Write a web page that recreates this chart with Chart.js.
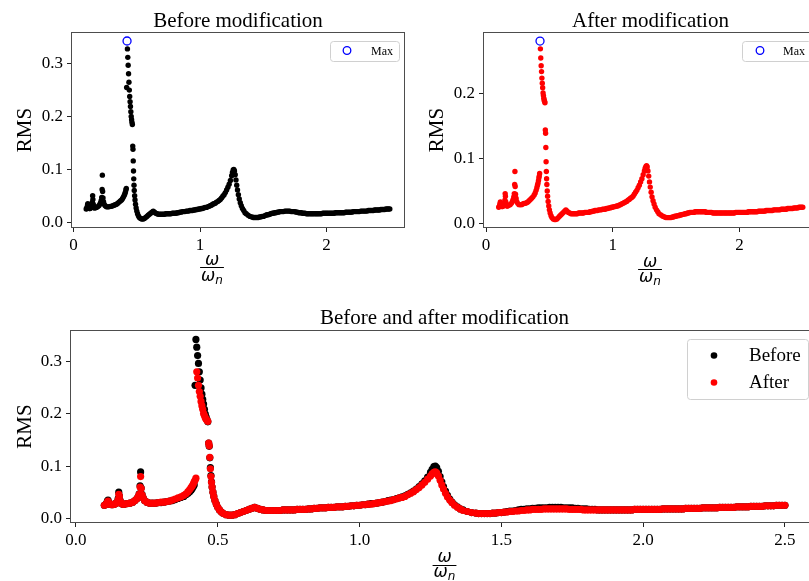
<!DOCTYPE html>
<html>
<head>
<meta charset="utf-8">
<script src="https://cdn.jsdelivr.net/npm/chart.js@4.4.1/dist/chart.umd.min.js"></script>
<style>
  html, body { margin: 0; padding: 0; background: #fff; overflow: hidden; width: 809px; height: 581px; }
  canvas { position: absolute; }
</style>
</head>
<body>
<canvas id="before" style="left:0;top:0" width="440" height="290"></canvas>
<canvas id="after" style="left:420px;top:0" width="440" height="290"></canvas>
<canvas id="both" style="left:0;top:290px" width="840" height="291"></canvas>
<script>
// frequency ratio w/wn and RMS response, before and after the modification
const omega = [
  0.100, 0.104, 0.108, 0.111, 0.113, 0.116, 0.120, 0.125, 0.130, 0.135,
  0.140, 0.145, 0.149, 0.151, 0.153, 0.156, 0.160, 0.165, 0.170, 0.180,
  0.190, 0.200, 0.208, 0.214, 0.219, 0.223, 0.226, 0.228, 0.230, 0.233,
  0.237, 0.242, 0.250, 0.260, 0.270, 0.280, 0.290, 0.300, 0.310, 0.320,
  0.330, 0.340, 0.350, 0.360, 0.370, 0.380, 0.388, 0.395, 0.401, 0.406,
  0.410, 0.414, 0.417, 0.420, 0.423, 0.426, 0.429, 0.432, 0.435, 0.438,
  0.441, 0.444, 0.447, 0.450, 0.453, 0.456, 0.459, 0.462, 0.465, 0.468,
  0.470, 0.472, 0.474, 0.476, 0.478, 0.480, 0.483, 0.486, 0.490, 0.495,
  0.500, 0.506, 0.513, 0.520, 0.530, 0.540, 0.550, 0.560, 0.570, 0.580,
  0.590, 0.600, 0.610, 0.620, 0.630, 0.640, 0.650, 0.660,
  0.670, 0.680, 0.690, 0.700, 0.710, 0.720, 0.730, 0.740, 0.750, 0.760,
  0.770, 0.780, 0.790, 0.800, 0.810, 0.820, 0.830, 0.840, 0.850, 0.860,
  0.870, 0.880, 0.890, 0.900, 0.910, 0.920, 0.930, 0.940, 0.950, 0.960,
  0.970, 0.980, 0.990, 1.000, 1.010, 1.020, 1.030, 1.040, 1.050, 1.060,
  1.070, 1.080, 1.090, 1.100, 1.110, 1.120, 1.130, 1.140, 1.150, 1.160,
  1.170, 1.180, 1.190, 1.200, 1.210, 1.220, 1.230, 1.240, 1.250, 1.256,
  1.262, 1.267, 1.272, 1.278, 1.284, 1.290, 1.296, 1.303, 1.310, 1.318,
  1.326, 1.335, 1.345, 1.355, 1.365, 1.380, 1.395, 1.410, 1.420, 1.430,
  1.440, 1.450, 1.460, 1.470, 1.480, 1.490, 1.500, 1.510, 1.520, 1.530,
  1.540, 1.550, 1.560, 1.570, 1.580, 1.590, 1.600, 1.610, 1.620, 1.630,
  1.640, 1.650, 1.660, 1.670, 1.680, 1.690, 1.700, 1.710, 1.720, 1.730,
  1.740, 1.750, 1.760, 1.770, 1.780, 1.790, 1.800, 1.810, 1.820, 1.830,
  1.840, 1.850, 1.860, 1.870, 1.880, 1.890, 1.900, 1.910, 1.920, 1.930,
  1.940, 1.950, 1.960, 1.970, 1.980, 1.990, 2.000, 2.010, 2.020, 2.030,
  2.040, 2.050, 2.060, 2.070, 2.080, 2.090, 2.100, 2.110, 2.120, 2.130,
  2.140, 2.150, 2.160, 2.170, 2.180, 2.190, 2.200, 2.210, 2.220, 2.230,
  2.240, 2.250, 2.260, 2.270, 2.280, 2.290, 2.300, 2.310, 2.320, 2.330,
  2.340, 2.350, 2.360, 2.370, 2.380, 2.390, 2.400, 2.410, 2.420, 2.430,
  2.440, 2.450, 2.460, 2.470, 2.480, 2.490, 2.500
];
const rmsBefore = [
  0.025, 0.026, 0.029, 0.033, 0.035, 0.030, 0.027, 0.026, 0.026, 0.027,
  0.028, 0.031, 0.038, 0.050, 0.043, 0.034, 0.029, 0.027, 0.027, 0.028,
  0.029, 0.031, 0.034, 0.037, 0.041, 0.047, 0.062, 0.089, 0.058, 0.046,
  0.039, 0.034, 0.031, 0.029, 0.029, 0.029, 0.030, 0.030, 0.031, 0.032,
  0.033, 0.034, 0.036, 0.038, 0.040, 0.042, 0.045, 0.048, 0.051, 0.054,
  0.057, 0.061, 0.064, 0.255, 0.343, 0.328, 0.312, 0.297, 0.281, 0.265,
  0.250, 0.238, 0.228, 0.219, 0.209, 0.200, 0.194, 0.189, 0.185, 0.144,
  0.138, 0.116, 0.097, 0.082, 0.070, 0.060, 0.050, 0.042, 0.034, 0.027,
  0.021, 0.016, 0.012, 0.009, 0.007, 0.006, 0.006, 0.007, 0.009, 0.011,
  0.013, 0.015, 0.017, 0.019, 0.021, 0.019, 0.017, 0.016,
  0.015, 0.015, 0.015, 0.015, 0.015, 0.015, 0.016, 0.016, 0.016, 0.016,
  0.016, 0.017, 0.017, 0.017, 0.017, 0.018, 0.018, 0.019, 0.019, 0.020,
  0.020, 0.020, 0.021, 0.021, 0.021, 0.022, 0.022, 0.022, 0.023, 0.023,
  0.024, 0.024, 0.025, 0.025, 0.026, 0.026, 0.027, 0.028, 0.028, 0.029,
  0.030, 0.031, 0.032, 0.034, 0.035, 0.036, 0.038, 0.039, 0.041, 0.043,
  0.046, 0.049, 0.052, 0.056, 0.061, 0.066, 0.072, 0.079, 0.088, 0.094,
  0.099, 0.100, 0.097, 0.090, 0.080, 0.070, 0.061, 0.052, 0.044, 0.037,
  0.031, 0.026, 0.022, 0.018, 0.016, 0.013, 0.011, 0.010, 0.009, 0.009,
  0.009, 0.009, 0.009, 0.010, 0.010, 0.011, 0.011, 0.012, 0.013, 0.014,
  0.014, 0.015, 0.016, 0.017, 0.017, 0.018, 0.018, 0.019, 0.019, 0.020,
  0.020, 0.020, 0.020, 0.021, 0.021, 0.021, 0.021, 0.021, 0.020, 0.020,
  0.020, 0.020, 0.019, 0.019, 0.018, 0.018, 0.018, 0.017, 0.017, 0.017,
  0.016, 0.016, 0.016, 0.016, 0.016, 0.016, 0.016, 0.016, 0.016, 0.016,
  0.016, 0.016, 0.016, 0.017, 0.017, 0.017, 0.017, 0.017, 0.017, 0.017,
  0.017, 0.017, 0.017, 0.018, 0.018, 0.018, 0.018, 0.018, 0.018, 0.018,
  0.018, 0.019, 0.019, 0.019, 0.019, 0.019, 0.019, 0.020, 0.020, 0.020,
  0.020, 0.020, 0.020, 0.021, 0.021, 0.021, 0.021, 0.021, 0.021, 0.022,
  0.022, 0.022, 0.022, 0.022, 0.023, 0.023, 0.023, 0.023, 0.023, 0.024,
  0.024, 0.024, 0.024, 0.025, 0.025, 0.025, 0.025
];
const rmsAfter = [
  0.025, 0.026, 0.028, 0.031, 0.033, 0.029, 0.027, 0.026, 0.026, 0.027,
  0.028, 0.030, 0.036, 0.046, 0.042, 0.033, 0.029, 0.027, 0.027, 0.028,
  0.029, 0.031, 0.034, 0.037, 0.041, 0.046, 0.060, 0.080, 0.057, 0.045,
  0.039, 0.034, 0.031, 0.029, 0.029, 0.029, 0.030, 0.031, 0.031, 0.032,
  0.033, 0.035, 0.037, 0.039, 0.041, 0.044, 0.047, 0.051, 0.055, 0.059,
  0.062, 0.066, 0.070, 0.073, 0.077, 0.281, 0.269, 0.255, 0.243, 0.234,
  0.224, 0.216, 0.209, 0.201, 0.197, 0.193, 0.190, 0.188, 0.186, 0.144,
  0.139, 0.117, 0.095, 0.080, 0.069, 0.060, 0.050, 0.042, 0.034, 0.027,
  0.021, 0.016, 0.012, 0.009, 0.007, 0.006, 0.006, 0.007, 0.009, 0.011,
  0.013, 0.015, 0.017, 0.019, 0.021, 0.019, 0.017, 0.016,
  0.015, 0.015, 0.015, 0.015, 0.015, 0.015, 0.016, 0.016, 0.016, 0.016,
  0.016, 0.017, 0.017, 0.017, 0.017, 0.018, 0.018, 0.019, 0.019, 0.020,
  0.020, 0.020, 0.021, 0.021, 0.021, 0.022, 0.022, 0.022, 0.023, 0.023,
  0.024, 0.024, 0.025, 0.025, 0.026, 0.026, 0.027, 0.027, 0.028, 0.029,
  0.030, 0.031, 0.032, 0.033, 0.034, 0.036, 0.037, 0.039, 0.040, 0.042,
  0.045, 0.048, 0.051, 0.055, 0.059, 0.064, 0.069, 0.075, 0.081, 0.085,
  0.088, 0.089, 0.087, 0.081, 0.073, 0.064, 0.056, 0.048, 0.041, 0.035,
  0.030, 0.025, 0.021, 0.018, 0.015, 0.013, 0.011, 0.010, 0.009, 0.009,
  0.009, 0.009, 0.009, 0.010, 0.010, 0.011, 0.011, 0.012, 0.012, 0.013,
  0.013, 0.014, 0.014, 0.015, 0.015, 0.016, 0.016, 0.017, 0.017, 0.017,
  0.017, 0.018, 0.018, 0.018, 0.018, 0.018, 0.018, 0.018, 0.018, 0.018,
  0.017, 0.017, 0.017, 0.017, 0.017, 0.016, 0.016, 0.016, 0.016, 0.016,
  0.016, 0.016, 0.016, 0.016, 0.016, 0.016, 0.016, 0.016, 0.016, 0.016,
  0.016, 0.016, 0.016, 0.017, 0.017, 0.017, 0.017, 0.017, 0.017, 0.017,
  0.017, 0.017, 0.017, 0.018, 0.018, 0.018, 0.018, 0.018, 0.018, 0.018,
  0.018, 0.019, 0.019, 0.019, 0.019, 0.019, 0.019, 0.020, 0.020, 0.020,
  0.020, 0.020, 0.020, 0.021, 0.021, 0.021, 0.021, 0.021, 0.021, 0.022,
  0.022, 0.022, 0.022, 0.022, 0.023, 0.023, 0.023, 0.023, 0.023, 0.024,
  0.024, 0.024, 0.024, 0.025, 0.025, 0.025, 0.025
];
const topXTicks = [0, 1, 2];
const bottomXTicks = [0, 0.5, 1.0, 1.5, 2.0, 2.5];
const beforeYTicks = [0, 0.1, 0.2, 0.3];
const afterYTicks = [0, 0.1, 0.2];

const SERIF = '"Liberation Serif", "Times New Roman", serif';

function points(ys) {
  return omega.map((x, i) => ({ x: x, y: ys[i] }));
}
function peak(ys) {
  let k = 0;
  ys.forEach((v, i) => { if (v > ys[k]) k = i; });
  return [{ x: omega[k], y: ys[k] }];
}

// titles, spines, RMS label, w/wn fraction and legend box
const decor = {
  id: 'decor',
  afterDraw(chart, args, o) {
    const ctx = chart.ctx, a = chart.chartArea;
    ctx.save();
    ctx.strokeStyle = '#4d4d4d';
    ctx.lineWidth = 1;
    ctx.strokeRect(Math.round(a.left) + 0.5, Math.round(a.top) + 0.5,
      Math.round(a.right - a.left) - 1, Math.round(a.bottom - a.top) - 1);

    ctx.fillStyle = '#000';
    ctx.font = '21px ' + SERIF;
    ctx.textAlign = 'center';
    ctx.textBaseline = 'alphabetic';
    ctx.fillText(o.title, (a.left + a.right) / 2, o.titleY);

    ctx.save();
    ctx.translate(o.yLabelX, (a.top + a.bottom) / 2);
    ctx.rotate(-Math.PI / 2);
    ctx.font = '21px ' + SERIF;
    ctx.fillText('RMS', 0, 0);
    ctx.restore();

    // x label: omega over omega_n
    const cx = o.xLabelX;
    ctx.font = 'italic 17px "DejaVu Sans"';
    ctx.textAlign = 'left';
    const w1 = ctx.measureText('\u03c9').width;
    ctx.fillText('\u03c9', cx - w1 / 2, o.fracTop);
    ctx.font = 'italic 12px "DejaVu Sans"';
    const wn = ctx.measureText('n').width;
    const total = w1 + wn;
    ctx.font = 'italic 17px "DejaVu Sans"';
    ctx.fillText('\u03c9', cx - total / 2, o.fracBottom);
    ctx.font = 'italic 12px "DejaVu Sans"';
    ctx.fillText('n', cx - total / 2 + w1, o.fracBottom + 3);
    ctx.fillRect(cx - total / 2 - 1, o.fracLine, total + 2, 1);

    // legend
    const L = o.legend;
    ctx.fillStyle = 'rgba(255,255,255,0.8)';
    ctx.strokeStyle = '#d0d0d0';
    ctx.beginPath();
    ctx.roundRect(L.x + 0.5, L.y + 0.5, L.w, L.h, 3);
    ctx.fill();
    ctx.stroke();
    L.items.forEach((it, i) => {
      const y = L.rowY + i * L.rowH;
      ctx.beginPath();
      ctx.arc(L.markX, y, it.r, 0, Math.PI * 2);
      if (it.hollow) {
        ctx.strokeStyle = it.color;
        ctx.lineWidth = 1.3;
        ctx.stroke();
      } else {
        ctx.fillStyle = it.color;
        ctx.fill();
      }
      ctx.fillStyle = '#000';
      ctx.font = L.font + 'px ' + SERIF;
      ctx.textAlign = 'left';
      ctx.textBaseline = 'middle';
      ctx.fillText(it.label, L.textX, y + 1);
    });
    ctx.restore();
  }
};

function scales(xr, yr, xt, yt, xFmt, yW, xH) {
  const tickFont = { family: SERIF, size: 17 };
  return {
    x: {
      type: 'linear', min: xr[0], max: xr[1],
      afterBuildTicks: s => { s.ticks = xt.map(v => ({ value: v })); },
      afterFit: s => { s.height = xH; },
      ticks: { font: tickFont, color: '#000', padding: 3, maxRotation: 0, callback: xFmt },
      grid: { drawOnChartArea: false, tickLength: 4, tickColor: '#222' },
      border: { display: false }
    },
    y: {
      type: 'linear', min: yr[0], max: yr[1],
      afterBuildTicks: s => { s.ticks = yt.map(v => ({ value: v })); },
      afterFit: s => { s.width = yW; },
      ticks: { font: tickFont, color: '#000', padding: 4, callback: v => v.toFixed(1) },
      grid: { drawOnChartArea: false, tickLength: 4, tickColor: '#222' },
      border: { display: false }
    }
  };
}

function dots(label, ys, color, r, order) {
  return {
    label: label, data: points(ys), order: order,
    pointRadius: r, pointBackgroundColor: color, pointBorderWidth: 0,
    pointBorderColor: color, showLine: false
  };
}
function maxMark(ys) {
  return {
    label: 'Max', data: peak(ys), order: 0,
    pointRadius: 4, pointBackgroundColor: '#ffffff',
    pointBorderColor: '#0000ff', pointBorderWidth: 1.3, showLine: false
  };
}

const common = {
  responsive: false, animation: false, events: [],
  plugins: { legend: { display: false }, tooltip: { enabled: false } }
};

new Chart(document.getElementById('before'), {
  type: 'scatter',
  data: { datasets: [maxMark(rmsBefore), dots('Before', rmsBefore, '#000000', 2.7, 1)] },
  options: Object.assign({}, common, {
    layout: { padding: { left: 0, top: 32, right: 35, bottom: 0 } },
    scales: scales([-0.02, 2.62], [-0.011, 0.36], topXTicks, beforeYTicks, v => String(v), 71, 62),
    plugins: Object.assign({}, common.plugins, {
      decor: {
        title: 'Before modification', titleY: 27, yLabelX: 31,
        xLabelX: 212, fracTop: 265, fracLine: 267, fracBottom: 281,
        legend: { x: 330, y: 41, w: 69, h: 20, rowY: 50.5, rowH: 0, markX: 347, textX: 371, font: 12,
          items: [{ label: 'Max', color: '#0000ff', r: 3.8, hollow: true }] }
      }
    })
  }),
  plugins: [decor]
});

new Chart(document.getElementById('after'), {
  type: 'scatter',
  data: { datasets: [maxMark(rmsAfter), dots('After', rmsAfter, '#ff0000', 2.7, 1)] },
  options: Object.assign({}, common, {
    layout: { padding: { left: 0, top: 32, right: 42, bottom: 0 } },
    scales: scales([-0.024, 2.62], [-0.007, 0.295], topXTicks, afterYTicks, v => String(v), 63, 62),
    plugins: Object.assign({}, common.plugins, {
      decor: {
        title: 'After modification', titleY: 27, yLabelX: 23,
        xLabelX: 230, fracTop: 266.5, fracLine: 269, fracBottom: 282,
        legend: { x: 322, y: 41, w: 69, h: 20, rowY: 50.5, rowH: 0, markX: 340, textX: 363, font: 12,
          items: [{ label: 'Max', color: '#0000ff', r: 3.8, hollow: true }] }
      }
    })
  }),
  plugins: [decor]
});

new Chart(document.getElementById('both'), {
  type: 'scatter',
  data: { datasets: [dots('After', rmsAfter, '#ff0000', 3.6, 0), dots('Before', rmsBefore, '#000000', 3.6, 1)] },
  options: Object.assign({}, common, {
    layout: { padding: { left: 0, top: 40, right: 21, bottom: 0 } },
    scales: scales([-0.021, 2.62], [-0.009, 0.361], bottomXTicks, beforeYTicks, v => v.toFixed(1), 70, 58),
    plugins: Object.assign({}, common.plugins, {
      decor: {
        title: 'Before and after modification', titleY: 33.5, yLabelX: 31,
        xLabelX: 444.5, fracTop: 271.5, fracLine: 275, fracBottom: 286.5,
        legend: { x: 687, y: 49, w: 121, h: 60, rowY: 65.5, rowH: 27, markX: 714, textX: 749, font: 19,
          items: [{ label: 'Before', color: '#000000', r: 3.3 }, { label: 'After', color: '#ff0000', r: 3.3 }] }
      }
    })
  }),
  plugins: [decor]
});
</script>
</body>
</html>
